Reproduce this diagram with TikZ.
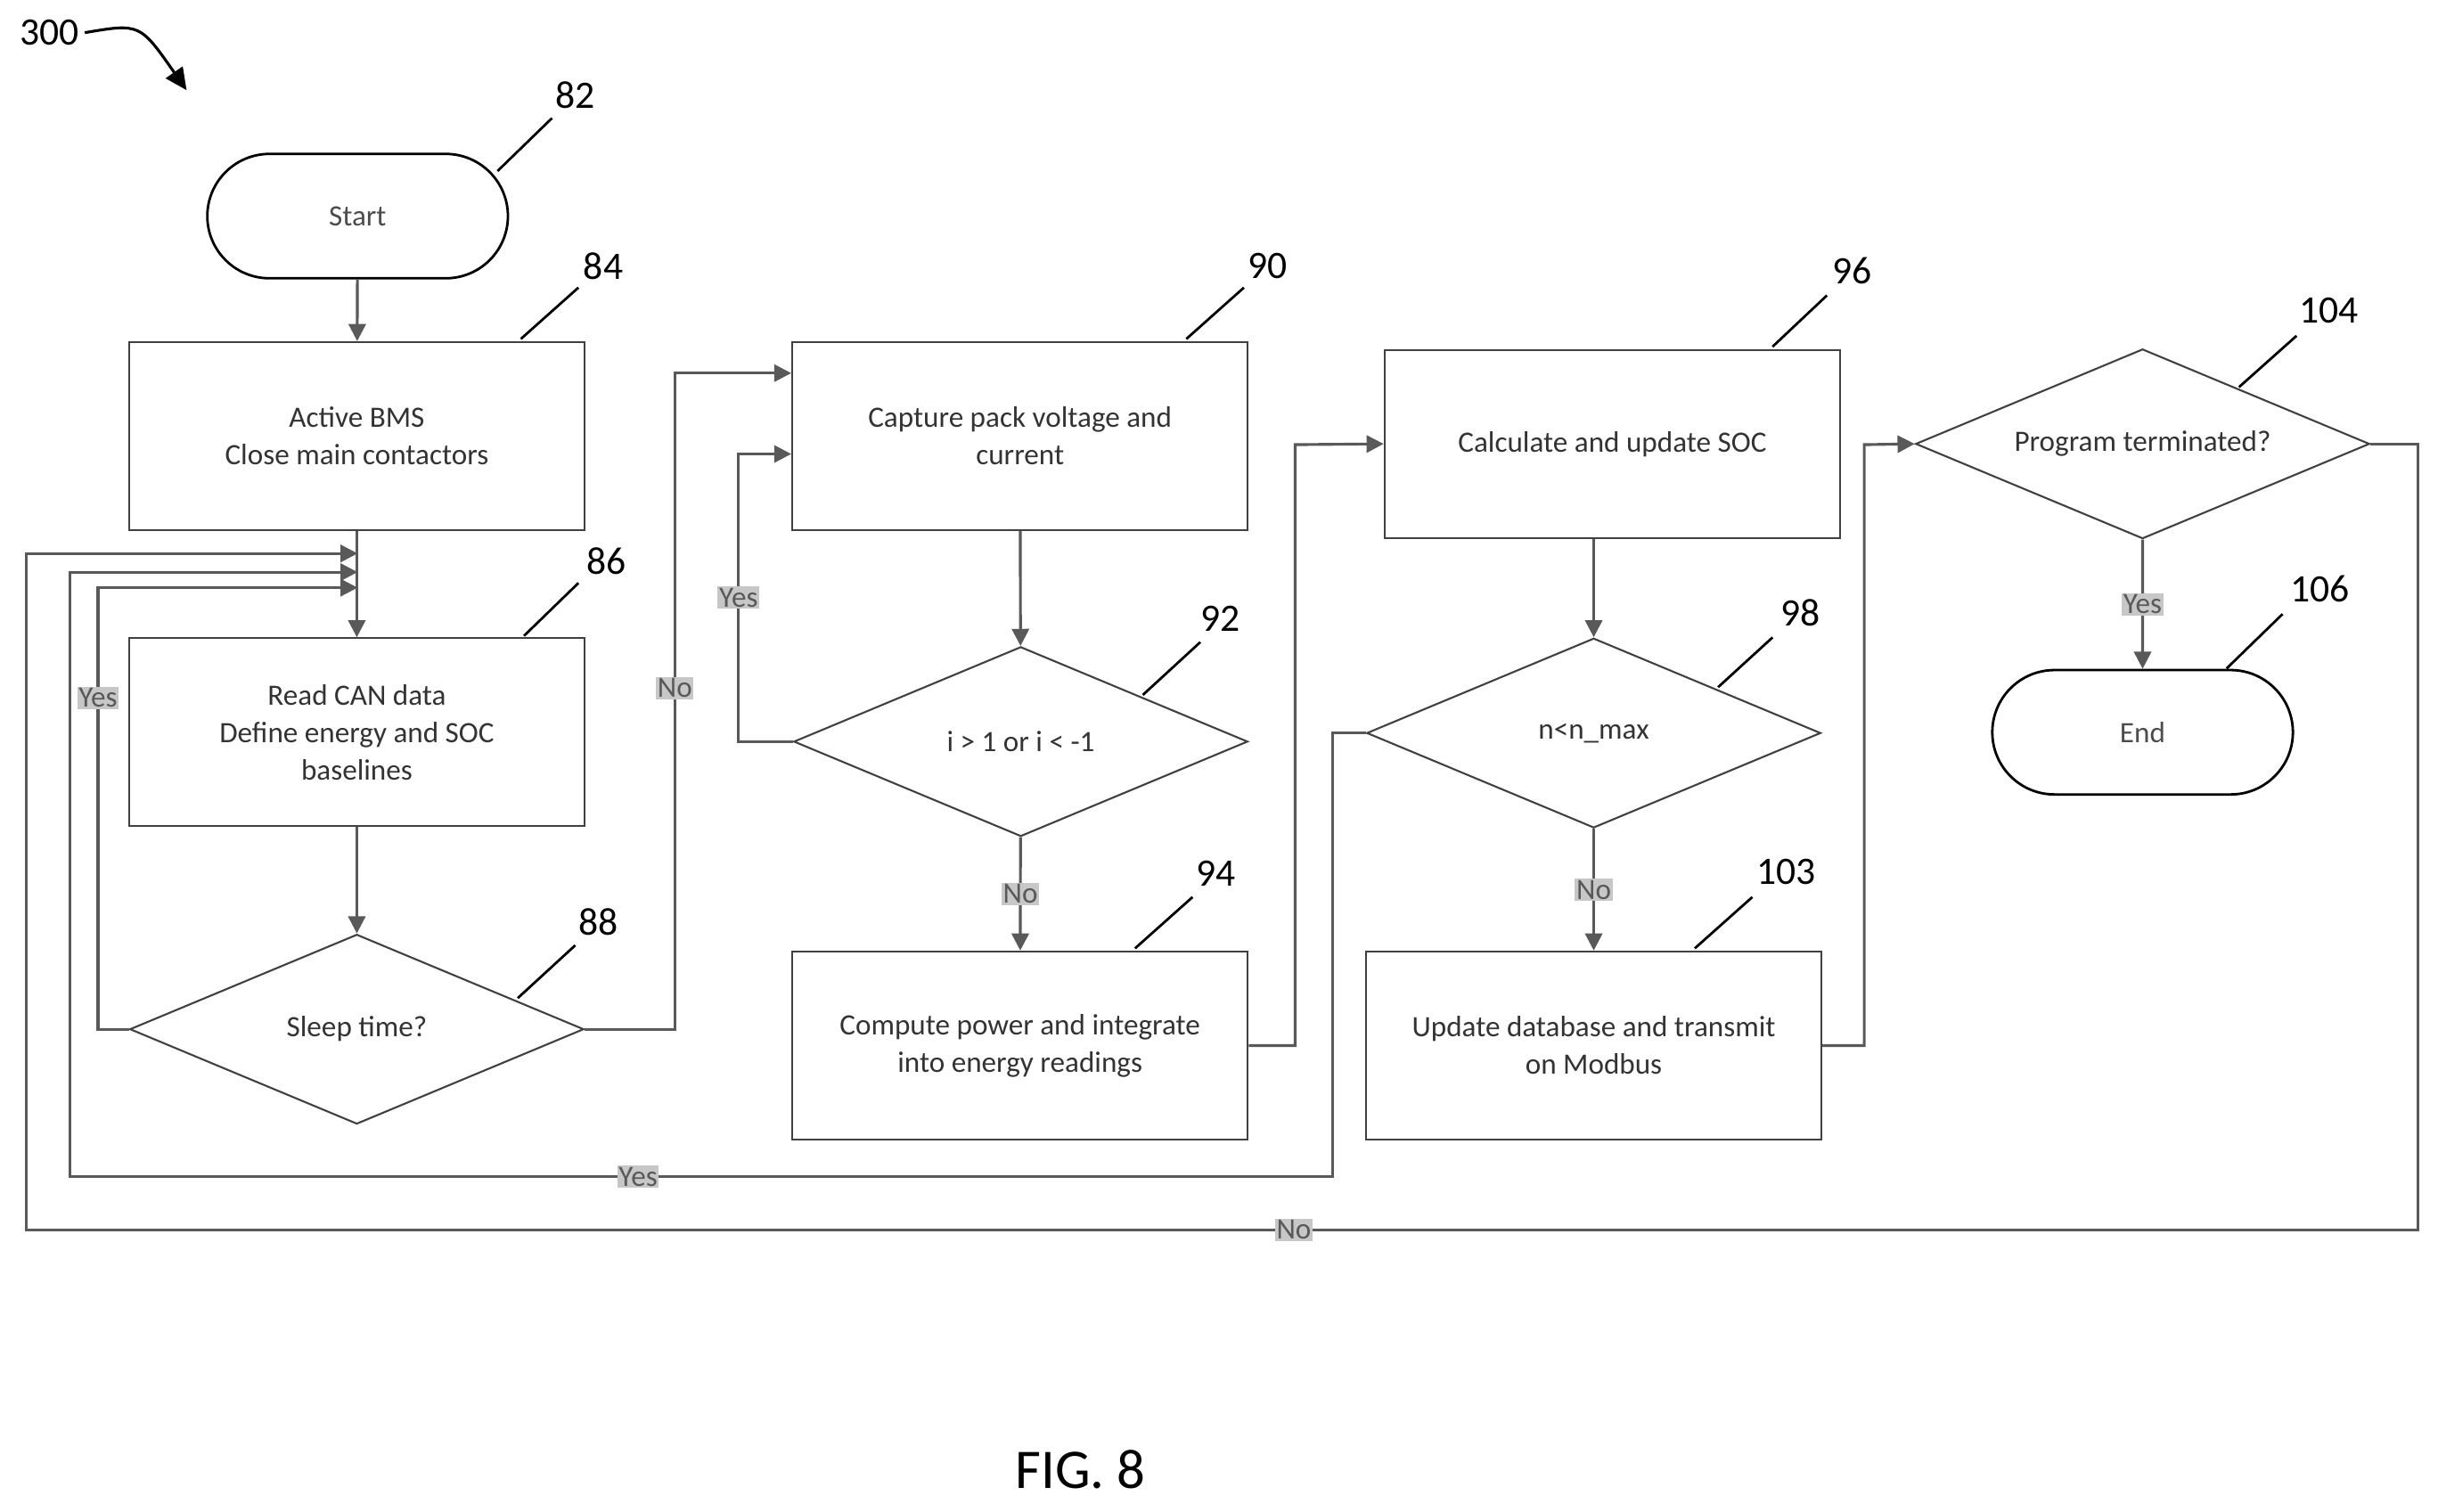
\documentclass[tikz,border=0pt]{standalone}
\usepackage{fontspec}
\setmainfont{Carlito}
\usetikzlibrary{shapes.geometric,shapes.misc,arrows.meta}
\begin{document}
\begin{tikzpicture}[x=1pt,y=-1pt,
  box/.style={draw=black!75,line width=1.2pt,minimum width=293pt,minimum height=121pt,align=center,font=\fontsize{19}{24}\selectfont,text=black!80},
  dia/.style={draw=black!75,line width=1.2pt,diamond,aspect=2.4,minimum width=292pt,minimum height=122pt,inner sep=0pt,align=center,font=\fontsize{19}{24}\selectfont,text=black!80},
  term/.style={draw=black,line width=1.6pt,rounded rectangle,minimum width=200pt,minimum height=80pt,font=\fontsize{19}{24}\selectfont,text=black!70},
  num/.style={font=\fontsize{25}{30}\selectfont},
  lead/.style={line width=1.6pt,black},
  con/.style={draw=black!65,line width=1.8pt,-{Triangle[length=11pt,width=11pt]}},
  lab/.style={fill=black!22,inner sep=1pt,font=\fontsize{19}{22}\selectfont,text=black!65}]
\useasboundingbox (0,0) rectangle (1568,972);
\node[term] (s) at (230,139) {Start};
\node[box] (b84) at (229.5,280.5) {Active BMS\\Close main contactors};
\node[box] (b86) at (229.5,471) {Read CAN data\\Define energy and SOC\\baselines};
\node[dia] (d88) at (229.5,662) {Sleep time?};
\node[box] (b90) at (656,280.5) {Capture pack voltage and\\current};
\node[dia] (d92) at (656.5,477) {i > 1 or i < -1};
\node[box] (b94) at (656,672.5) {Compute power and integrate\\into energy readings};
\node[box] (b96) at (1037,285.5) {Calculate and update SOC};
\node[dia] (d98) at (1025,471.5) {n<n\_max};
\node[box] (b103) at (1025,672.5) {Update database and transmit\\on Modbus};
\node[dia] (d104) at (1378,285.5) {Program terminated?};
\node[term] (e) at (1378,471) {End};
% numbers
\node[num] (n300) at (32,21) {300};
\node[num] (n82) at (370,61) {82}; \draw[lead] (320,110)--(355,76);
\node[num] (n84) at (388,171) {84}; \draw[lead] (335,218)--(372,185);
\node[num] (n86) at (390,361) {86}; \draw[lead] (337,409)--(372,375);
\node[num] (n88) at (385,593) {88}; \draw[lead] (333,642)--(370,608);
\node[num] (n90) at (815,171) {90}; \draw[lead] (763,218)--(800,185);
\node[num] (n92) at (785,398) {92}; \draw[lead] (735,447)--(772,413);
\node[num] (n94) at (782,562) {94}; \draw[lead] (730,610)--(767,577);
\node[num] (n96) at (1191,174) {96}; \draw[lead] (1140,223)--(1175,190);
\node[num] (n98) at (1158,394) {98}; \draw[lead] (1105,442)--(1140,410);
\node[num] (n103) at (1149,561) {103}; \draw[lead] (1090,610)--(1127,577);
\node[num] (n104) at (1498,200) {104}; \draw[lead] (1440,249)--(1477,216);
\node[num] (n106) at (1492,379) {106}; \draw[lead] (1432,430)--(1468,395);
\draw[line width=1.8pt,-{Triangle[length=14pt,width=13pt]}] (n300.east) .. controls (90,15) .. (120,58);
\node[font=\fontsize{36}{40}\selectfont] (fig) at (695,945) {FIG. 8};
% connectors
\draw[con] (s) -- (b84);
\draw[con] (b84) -- (b86);
\draw[con] (b86) -- (d88);
\draw[con] (b90) -- (d92);
\draw[con] (d92) -- node[lab]{No} (b94);
\draw[con] (b96.south -| d98.north) -- (d98);
\draw[con] (d98) -- node[lab]{No} (b103);
\draw[con] (d104) -- node[lab]{Yes} (e);
\coordinate (t1) at (230,356); \coordinate (t2) at (230,368); \coordinate (t3) at (230,378);
\draw[con] (d88.west) -- (63,662) -- node[lab,pos=0.75]{Yes} (63,378) -- (t3);
\draw[con] (d98.west) -- (857,471.5) -- (857,757) -- node[lab,pos=0.55]{Yes} (45,757) -- (45,368) -- (t2);
\draw[con] (d104.east) -- (1555,285.5) -- (1555,791) -- node[lab,pos=0.47]{No} (17,791) -- (17,356) -- (t1);
\draw[con] (d88.east) -- (434,662) -- node[lab,pos=0.52]{No} (434,240) -- (b90.west |- 0,240);
\draw[con] (d92.west) -- (475,477) -- node[lab]{Yes} (475,292) -- (b90.west |- 0,292);
\draw[con] (b94.east) -- (833,672.5) -- (833,286) -- (b96.west);
\draw[con] (b103.east) -- (1199,672.5) -- (1199,286) -- (d104.west);
\end{tikzpicture}
\end{document}
